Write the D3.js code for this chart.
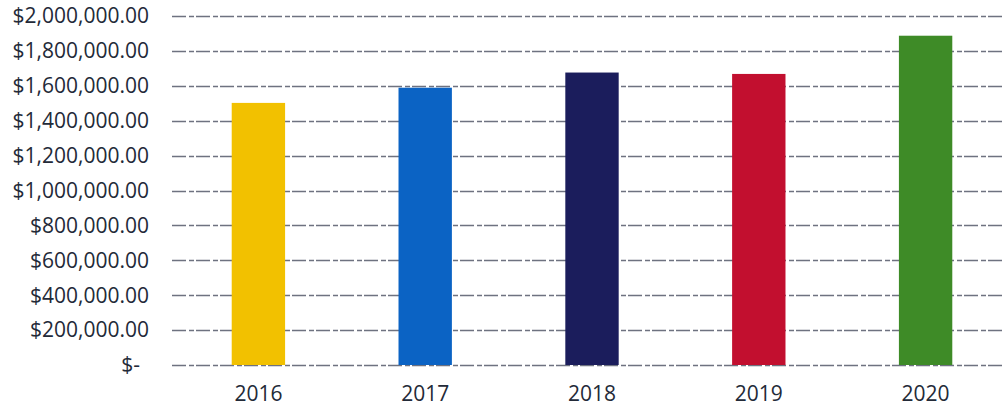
<!DOCTYPE html>
<html>
<head>
<meta charset="utf-8">
<script src="https://cdn.jsdelivr.net/npm/d3@7"></script>
<style>
  body { margin: 0; background: #fff; }
  #chart text { font-family: "Open Sans", sans-serif; fill: #232a38; }
</style>
</head>
<body>
<div id="chart"></div>
<script>
// values
const years = ['2016', '2017', '2018', '2019', '2020'];
const totals = [1502000, 1589000, 1676000, 1668000, 1887000];
const barColors = ['#f2c100', '#0b63c4', '#1b1d5c', '#c20f2f', '#3e8b27'];
const yTicks = [0, 200000, 400000, 600000, 800000, 1000000, 1200000, 1400000, 1600000, 1800000, 2000000];

const width = 1002, height = 413;

const svg = d3.select('#chart').append('svg')
    .attr('width', width)
    .attr('height', height);

const x = d3.scaleBand()
    .domain(years)
    .range([175, 1009])
    .paddingInner(0.68)
    .paddingOuter(0.34);

const y = d3.scaleLinear()
    .domain([0, 2000000])
    .range([365, 16]);

const money = d3.format('$,.2f');

// gridlines
svg.append('g').attr('class', 'grid')
  .selectAll('line')
  .data(yTicks)
  .enter().append('line')
    .attr('x1', 172)
    .attr('x2', width)
    .attr('y1', d => Math.round(y(d)) + 0.5)
    .attr('y2', d => Math.round(y(d)) + 0.5)
    .attr('stroke', '#4a4f60')
    .attr('stroke-opacity', 0.8)
    .attr('stroke-width', 1.3)
    .attr('stroke-dasharray', '14,3,5,2');

// y labels
svg.append('g').attr('class', 'ylabels')
  .selectAll('text')
  .data(yTicks)
  .enter().append('text')
    .attr('x', d => d === 0 ? 140 : 149)
    .attr('y', d => y(d))
    .attr('dy', '0.35em')
    .attr('text-anchor', 'end')
    .style('font-size', '21px')
    .text(d => d === 0 ? '$-' : money(d));

// bars
svg.append('g').attr('class', 'bars')
  .selectAll('rect')
  .data(years)
  .enter().append('rect')
    .attr('x', d => x(d))
    .attr('width', x.bandwidth())
    .attr('y', (d, i) => y(totals[i]))
    .attr('height', (d, i) => y(0) - y(totals[i]))
    .attr('fill', (d, i) => barColors[i]);

// x labels
svg.append('g').attr('class', 'xlabels')
  .selectAll('text')
  .data(years)
  .enter().append('text')
    .attr('x', d => x(d) + x.bandwidth() / 2)
    .attr('y', 401)
    .attr('text-anchor', 'middle')
    .style('font-size', '21px')
    .text(d => d);
</script>
</body>
</html>
